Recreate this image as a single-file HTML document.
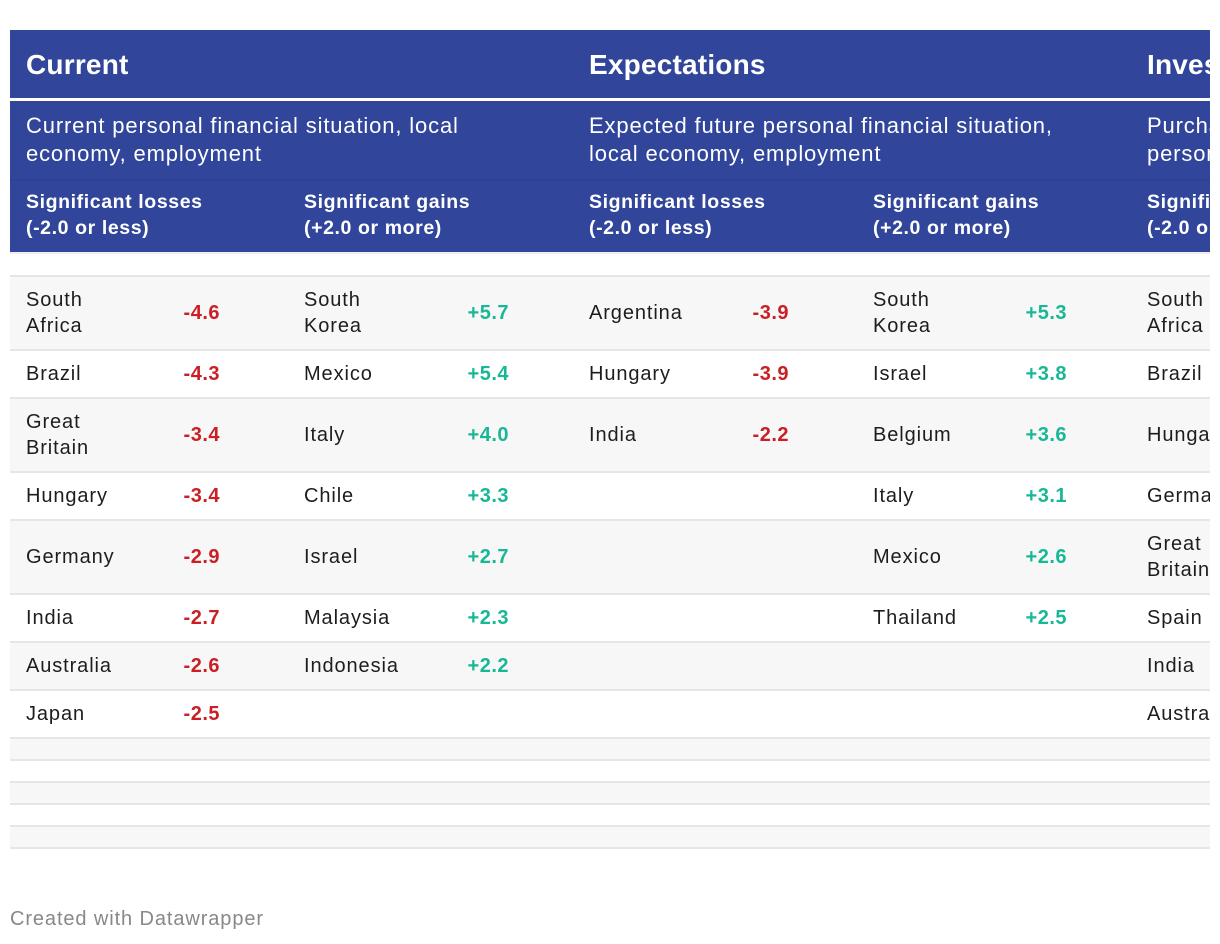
<!DOCTYPE html>
<html><head><meta charset="utf-8">
<style>
body{margin:0;width:1220px;height:944px;background:#fff;font-family:"Liberation Sans",sans-serif;position:relative;overflow:hidden}
#wrap{position:absolute;left:10px;top:0;width:1200px;height:944px;overflow:hidden}
.abs{position:absolute;white-space:nowrap}
.band{position:absolute;left:0;width:1200px;background:#31469b}
.h1{color:#fff;font-weight:bold;font-size:28px;letter-spacing:0.2px}
.sub{color:#fff;font-size:22px;line-height:28px;letter-spacing:0.85px}
.ch{color:#fff;font-weight:bold;font-size:19.5px;line-height:26px;letter-spacing:0.6px}
.row{position:absolute;left:0;width:1200px;border-top:2px solid #e6e6e6;box-sizing:border-box}
.nm{position:absolute;font-size:20px;line-height:26px;color:#1d1d1d;white-space:nowrap;letter-spacing:0.9px}
.vl{position:absolute;font-size:20px;font-weight:bold;text-align:right;width:80px;line-height:26px;letter-spacing:0.5px}
.neg{color:#c91f25}.pos{color:#18b795}
</style></head><body>
<div id="wrap">
<div class="band" style="top:30px;height:68px"></div>
<div class="band" style="top:101px;height:78px"></div>
<div class="band" style="top:179px;height:73px;border-top:2px solid #2d4292;box-sizing:border-box"></div>
<div class="abs h1" style="left:16px;top:49px">Current</div>
<div class="abs h1" style="left:579px;top:49px">Expectations</div>
<div class="abs h1" style="left:1137px;top:49px">Investment</div>
<div class="abs sub" style="left:16px;top:112px">Current personal financial situation, local<br>economy, employment</div>
<div class="abs sub" style="left:579px;top:112px">Expected future personal financial situation,<br>local economy, employment</div>
<div class="abs sub" style="left:1137px;top:112px">Purchasing and investment<br>personal</div>
<div class="abs ch" style="left:16px;top:189px">Significant losses<br>(-2.0 or less)</div>
<div class="abs ch" style="left:294px;top:189px">Significant gains<br>(+2.0 or more)</div>
<div class="abs ch" style="left:579px;top:189px">Significant losses<br>(-2.0 or less)</div>
<div class="abs ch" style="left:863px;top:189px">Significant gains<br>(+2.0 or more)</div>
<div class="abs ch" style="left:1137px;top:189px">Significant losses<br>(-2.0 or less)</div>
<div class="row" style="top:252px;height:2px;border-top:2px solid #eee"></div>
<div id="rows"></div>
<div class="abs" style="left:0;top:908px;font-size:20px;color:#888;letter-spacing:0.9px">Created with Datawrapper</div>
</div>
<script>
const rowHeights=[74,48,74,48,74,48,48,48,22,22,22,22,22];
const curLossNames=["South<br>Africa","Brazil","Great<br>Britain","Hungary","Germany","India","Australia","Japan"];
const curLossVals=["-4.6","-4.3","-3.4","-3.4","-2.9","-2.7","-2.6","-2.5"];
const curGainNames=["South<br>Korea","Mexico","Italy","Chile","Israel","Malaysia","Indonesia"];
const curGainVals=["+5.7","+5.4","+4.0","+3.3","+2.7","+2.3","+2.2"];
const expLossNames=["Argentina","Hungary","India"];
const expLossVals=["-3.9","-3.9","-2.2"];
const expGainNames=["South<br>Korea","Israel","Belgium","Italy","Mexico","Thailand"];
const expGainVals=["+5.3","+3.8","+3.6","+3.1","+2.6","+2.5"];
const invLossNames=["South<br>Africa","Brazil","Hungary","Germany","Great<br>Britain","Spain","India","Australia"];
const cols=[[curLossNames,curLossVals,16,130,'neg'],[curGainNames,curGainVals,294,419,'pos'],[expLossNames,expLossVals,579,699,'neg'],[expGainNames,expGainVals,863,977,'pos'],[invLossNames,null,1137,0,'neg']];
const R=document.getElementById('rows');
let y=275;
rowHeights.forEach((h,i)=>{
  const r=document.createElement('div');r.className='row';
  
  
  r.style.top=y+'px';r.style.height=h+'px';r.style.background=i%2==0?'#f7f7f7':'#fff';
  R.appendChild(r);
  cols.forEach(c=>{
    const n=c[0][i];if(n===undefined)return;
    const two=n.indexOf('<br>')>=0;
    const t=y+2+(h-2)/2-(two?26:13);
    const e=document.createElement('div');e.className='nm';e.innerHTML=n;
    
    
    e.style.left=c[2]+'px';e.style.top=t+'px';R.appendChild(e);
    if(c[1]){const v=document.createElement('div');v.className='vl '+c[4];v.textContent=c[1][i];
      
      
      v.style.left=c[3]+'px';v.style.top=(y+2+(h-2)/2-13)+'px';R.appendChild(v);}
  });
  y+=h;
});
const last=document.createElement('div');last.className='row';


last.style.top=y+'px';last.style.height='2px';R.appendChild(last);
</script>
</body></html>
